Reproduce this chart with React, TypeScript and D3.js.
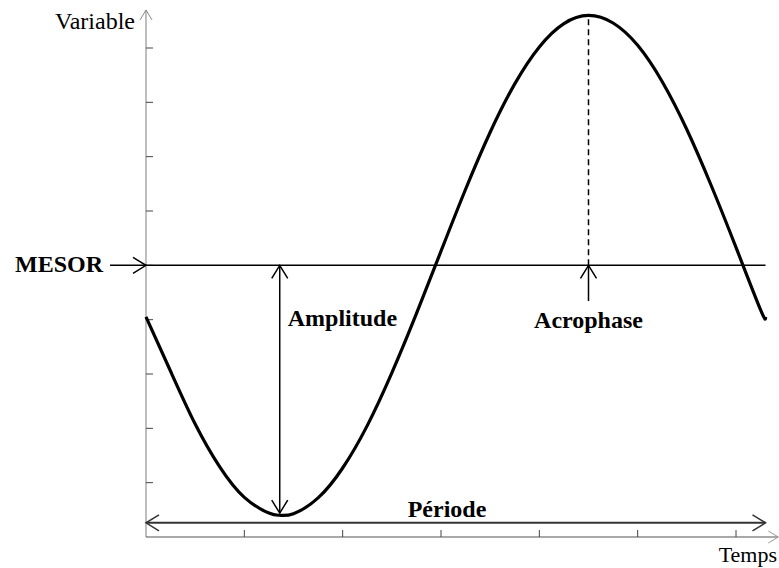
import React from "react";
import * as d3 from "d3";

// ---- data ----
const xTicks = [1, 2, 3, 4, 5, 6];
const yTicks = [1, 2, 3, 4, 5, 6, 7, 8, 9];
const mesor = 5;
const curveX = [0, 0.25, 0.5, 0.75, 1.0, 1.25, 1.36, 1.5, 1.75, 2.0, 2.25, 2.5, 2.75, 3.0, 3.25, 3.5, 3.75, 4.0, 4.25, 4.5, 4.75, 5.0, 5.25, 5.5, 5.75, 6.0, 6.25, 6.3];
const curveY = [4.05, 3.05, 2.08, 1.29, 0.73, 0.44, 0.4, 0.43, 0.72, 1.27, 2.05, 3.02, 4.11, 5.26, 6.4, 7.45, 8.34, 9.02, 9.45, 9.6, 9.46, 9.05, 8.38, 7.5, 6.46, 5.33, 4.18, 4.05];
const acrophaseX = 4.5;
const peakY = 9.6;
const troughX = 1.36;
const troughY = 0.44;
const periodStart = 0;
const periodEnd = 6.3;
const periodY = 0.26;
const xAxisMax = 6.43;
const yAxisMax = 9.7;
const labels = { y: "Variable", x: "Temps", mesor: "MESOR", amplitude: "Amplitude", acrophase: "Acrophase", period: "Période" };

const W = 779, H = 568;
const x = d3.scaleLinear().domain([0, 6]).range([146, 736]);
const y = d3.scaleLinear().domain([0, 9]).range([537, 48]);

// open chevron arrowhead at tip (tx,ty) pointing in direction (dx,dy)
function head(tx: number, ty: number, dx: number, dy: number, len = 12, hw = 7) {
  const n = Math.hypot(dx, dy);
  const ux = dx / n, uy = dy / n;
  const bx = tx - ux * len, by = ty - uy * len;
  const px = -uy * hw, py = ux * hw;
  return `M${bx + px},${by + py}L${tx},${ty}L${bx - px},${by - py}`;
}

export default function App() {
  const line = d3.line<number>().x((_, i) => x(curveX[i])).y((d) => y(d)).curve(d3.curveNatural);
  const serif = "'Liberation Serif', 'Times New Roman', serif";
  const x0 = x(0), yb = y(0);
  const ym = y(mesor);
  const fs = 24;
  return (
    <svg width={W} height={H} style={{ position: "absolute", left: 0, top: 0, background: "#fff" }}>
      {/* axes */}
      <line x1={x0} y1={yb} x2={x0} y2={y(yAxisMax)} stroke="#a8a8a8" strokeWidth={1.5} />
      <path d={head(x0, y(yAxisMax), 0, -1, 10, 6)} fill="none" stroke="#888" strokeWidth={1} />
      <line x1={x0} y1={yb} x2={x(xAxisMax)} y2={yb} stroke="#555" strokeWidth={1.2} />
      <path d={head(x(xAxisMax), yb, 1, 0, 10, 6)} fill="none" stroke="#999" strokeWidth={1} />
      {yTicks.map((t) => (
        <line key={"yt" + t} x1={x0} x2={x0 + 7} y1={y(t)} y2={y(t)} stroke="#444" strokeWidth={1} />
      ))}
      {xTicks.map((t) => (
        <line key={"xt" + t} x1={x(t)} x2={x(t)} y1={yb} y2={yb - 7} stroke="#444" strokeWidth={1} />
      ))}
      <text x={135} y={29} textAnchor="end" fontFamily={serif} fontSize={fs}>{labels.y}</text>
      <text x={777} y={562} textAnchor="end" fontFamily={serif} fontSize={22}>{labels.x}</text>

      {/* MESOR */}
      <line x1={x0} y1={ym} x2={x(periodEnd)} y2={ym} stroke="#000" strokeWidth={1.5} />
      <line x1={110} y1={ym} x2={x0} y2={ym} stroke="#000" strokeWidth={1.5} />
      <path d={head(x0, ym, 1, 0, 13, 8)} fill="none" stroke="#000" strokeWidth={1.5} />
      <text x={103} y={272} textAnchor="end" fontFamily={serif} fontSize={fs} fontWeight="bold">{labels.mesor}</text>

      {/* curve */}
      <path d={line(curveY) || ""} fill="none" stroke="#000" strokeWidth={3.2} />

      {/* Amplitude */}
      <line x1={x(troughX)} y1={ym} x2={x(troughX)} y2={y(troughY)} stroke="#000" strokeWidth={1.5} />
      <path d={head(x(troughX), ym, 0, -1, 13, 8)} fill="none" stroke="#000" strokeWidth={1.5} />
      <path d={head(x(troughX), y(troughY), 0, 1, 13, 8)} fill="none" stroke="#000" strokeWidth={1.5} />
      <text x={x(troughX) + 8} y={326} fontFamily={serif} fontSize={fs} fontWeight="bold">{labels.amplitude}</text>

      {/* Acrophase */}
      <line x1={x(acrophaseX)} y1={ym} x2={x(acrophaseX)} y2={y(peakY)} stroke="#000" strokeWidth={1.5} strokeDasharray="6,4" />
      <line x1={x(acrophaseX)} y1={ym} x2={x(acrophaseX)} y2={301} stroke="#000" strokeWidth={1.5} />
      <path d={head(x(acrophaseX), ym, 0, -1, 13, 8)} fill="none" stroke="#000" strokeWidth={1.5} />
      <text x={x(acrophaseX)} y={328} textAnchor="middle" fontFamily={serif} fontSize={fs} fontWeight="bold">{labels.acrophase}</text>

      {/* Période */}
      <line x1={x(periodStart)} y1={y(periodY)} x2={x(periodEnd)} y2={y(periodY)} stroke="#333" strokeWidth={2} />
      <path d={head(x(periodStart), y(periodY), -1, 0, 13, 8)} fill="none" stroke="#333" strokeWidth={1.5} />
      <path d={head(x(periodEnd), y(periodY), 1, 0, 13, 8)} fill="none" stroke="#333" strokeWidth={1.5} />
      <text x={447} y={517} textAnchor="middle" fontFamily={serif} fontSize={fs} fontWeight="bold">{labels.period}</text>
    </svg>
  );
}
